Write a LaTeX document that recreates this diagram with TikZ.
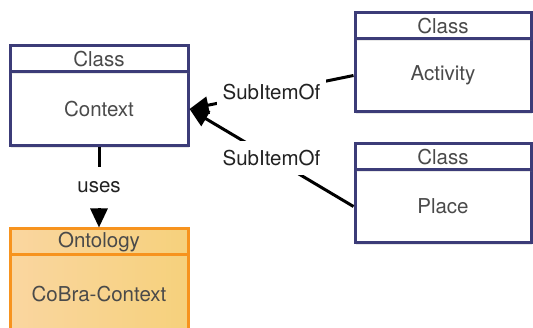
\documentclass[tikz,border=0pt]{standalone}
\usepackage{fontspec}
\setmainfont{TeX Gyre Heros}
\usetikzlibrary{arrows.meta,shadows}
\definecolor{classline}{HTML}{3C3C78}
\definecolor{ontoline}{HTML}{F7931E}
\definecolor{ontoleft}{HTML}{FAD6A0}
\definecolor{ontoright}{HTML}{F6D17C}
\definecolor{boxtext}{HTML}{4A4A4A}
\definecolor{linktext}{HTML}{222222}
\tikzset{
  boxfont/.style={font=\fontsize{20.5}{24}\selectfont, text=boxtext},
  classpart/.style={draw=classline, line width=3pt, fill=white, boxfont,
    inner sep=0pt, drop shadow={opacity=0.18, shadow xshift=1pt, shadow yshift=-2pt}},
  ontopart/.style={draw=ontoline, line width=3pt, left color=ontoleft, right color=ontoright,
    boxfont, inner sep=0pt},
  link/.style={draw=black, line width=3pt, -{Triangle[length=19pt,width=17pt]}},
  linklabel/.style={fill=white, text=linktext, font=\fontsize{20.5}{24}\selectfont,
    inner xsep=6pt, inner ysep=9pt},
}
\begin{document}
\begin{tikzpicture}[x=1pt, y=-1pt]
  \clip (0,0) rectangle (533,328);
  \fill[white] (0,0) rectangle (533,328);

  % Context class
  \node[classpart, minimum width=178pt, minimum height=74pt] (ctxB) at (99,109) {Context};
  \node[classpart, minimum width=178pt, minimum height=26pt] (ctxH) at (99,59) {Class};

  % Activity class
  \node[classpart, minimum width=176pt, minimum height=73pt] (actB) at (443,75.5) {Activity};
  \node[classpart, minimum width=176pt, minimum height=26pt] (actH) at (443,26) {Class};

  % Place class
  \node[classpart, minimum width=176pt, minimum height=73pt] (plB) at (443,206.5) {Place};
  \node[classpart, minimum width=176pt, minimum height=26pt] (plH) at (443,157) {Class};

  % CoBra-Context ontology
  \node[ontopart, minimum width=178pt, minimum height=78pt] (ontB) at (99,294) {CoBra-Context};
  \node[ontopart, minimum width=178pt, minimum height=26pt] (ontH) at (99,242) {Ontology};

  % relations
  \draw[link] (ctxB.south) -- node[linklabel, inner xsep=2pt, inner ysep=15pt] {uses} (ontH.north);
  \draw[link] (actB.west) -- node[linklabel] {SubItemOf} (ctxB.east);
  \draw[link] (plB.west) -- node[linklabel] {SubItemOf} (ctxB.east);
\end{tikzpicture}
\end{document}
